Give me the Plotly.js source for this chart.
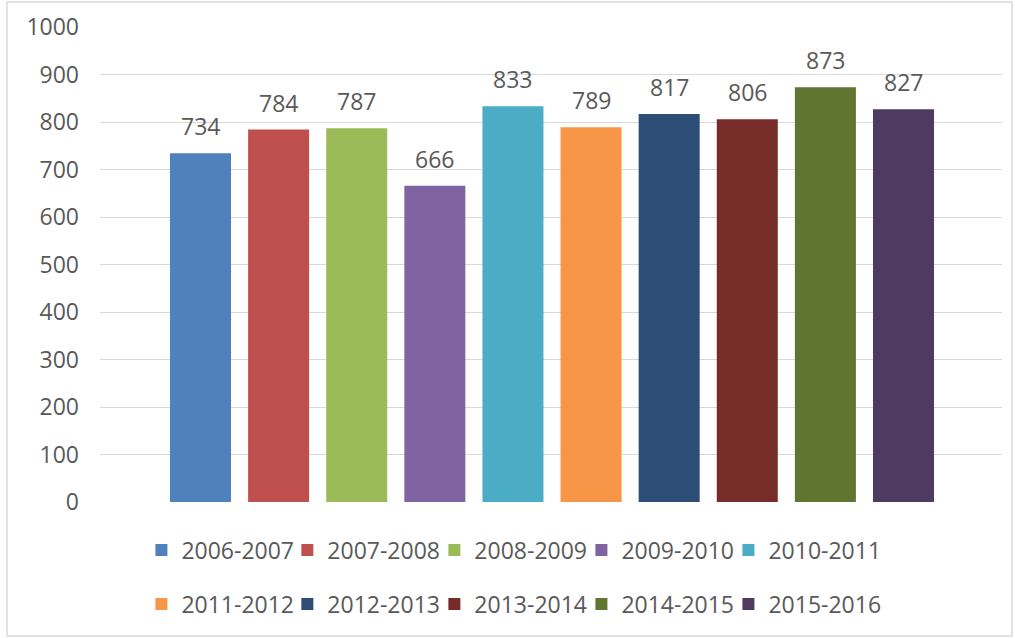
<!DOCTYPE html>
<html>
<head>
<meta charset="utf-8">
<script src="https://cdn.plot.ly/plotly-3.0.1.min.js"></script>
<style>
html,body{margin:0;padding:0;background:#fff;}
#chart{width:1015px;height:638px;}
</style>
</head>
<body>
<div id="chart"></div>
<script>
const seasons = ["2006-2007","2007-2008","2008-2009","2009-2010","2010-2011","2011-2012","2012-2013","2013-2014","2014-2015","2015-2016"];
const values = [734,784,787,666,833,789,817,806,873,827];
const colors = ["#4F81BD","#C0504D","#9BBB59","#8064A2","#4BACC6","#F79646","#2C4D75","#772C2A","#5F7530","#4D3B62"];
const yTicks = [0,100,200,300,400,500,600,700,800,900,1000];

const textColor = "#595959";
const fontFam = "Open Sans, sans-serif";
const fs = 23;

// legend layout: 5 entries per row, 2 rows
const perRow = 5;
const legendX = [0.0459, 0.2077, 0.3707, 0.5337, 0.6967];
const legendY = [-0.101, -0.215];

const legendId = i => (i === 0 ? "legend" : "legend" + (i + 1));

const traces = seasons.map((s, i) => ({
  type: "bar",
  name: s,
  x: [s],
  y: [values[i]],
  width: 0.781,
  marker: {color: colors[i]},
  hoverinfo: "name+y",
  legend: legendId(i)
}));

const annotations = seasons.map((s, i) => ({
  x: s,
  y: values[i],
  xref: "x",
  yref: "y",
  text: String(values[i]),
  showarrow: false,
  yanchor: "bottom",
  yshift: 9,
  font: {color: textColor, size: fs, family: fontFam}
}));

const layout = {
  width: 1015,
  height: 638,
  margin: {l: 100, r: 13, t: 27, b: 136},
  paper_bgcolor: "#ffffff",
  plot_bgcolor: "#ffffff",
  font: {family: fontFam, color: textColor},
  barmode: "overlay",
  showlegend: true,
  annotations: annotations,
  xaxis: {
    type: "category",
    categoryorder: "array",
    categoryarray: seasons,
    range: [-1.2866, 10.261],
    showticklabels: false,
    showgrid: false,
    zeroline: false,
    showline: false,
    ticks: "",
    fixedrange: true
  },
  yaxis: {
    range: [0, 1000],
    tickvals: yTicks,
    ticktext: yTicks.map(String),
    showgrid: true,
    gridcolor: "#d9d9d9",
    gridwidth: 1,
    zeroline: false,
    showline: false,
    ticks: "",
    ticklabelstandoff: 20,
    tickfont: {size: fs, color: textColor, family: fontFam},
    fixedrange: true
  },
  shapes: [{
    type: "rect",
    xref: "paper", yref: "paper",
    x0: -0.1031, x1: 1.0111,
    y0: -0.2821, y1: 1.0526,
    line: {color: "#d9d9d9", width: 1.5},
    fillcolor: "rgba(0,0,0,0)",
    layer: "below"
  }]
};

seasons.forEach((s, i) => {
  layout[legendId(i)] = {
    orientation: "h",
    xanchor: "left",
    yanchor: "middle",
    x: legendX[i % perRow],
    y: legendY[Math.floor(i / perRow)],
    font: {color: textColor, size: fs, family: fontFam},
    bgcolor: "rgba(0,0,0,0)",
    itemclick: false,
    itemdoubleclick: false
  };
});

Plotly.newPlot("chart", traces, layout, {displayModeBar: false});
</script>
</body>
</html>
